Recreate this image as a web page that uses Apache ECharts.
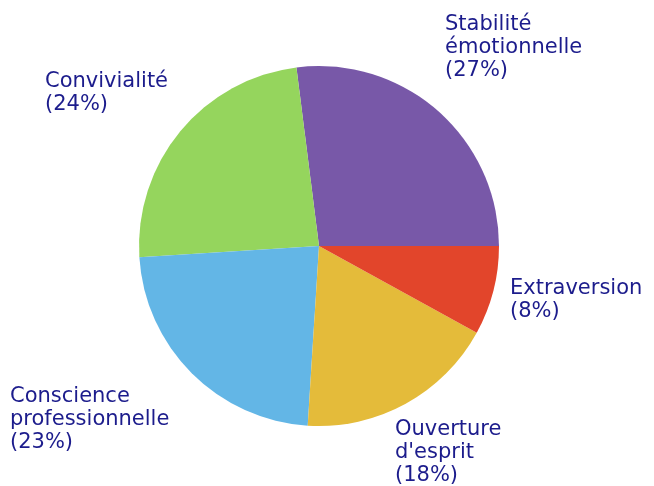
<!DOCTYPE html>
<html lang="fr">
<head>
    <meta charset="UTF-8">
    <title>Traits</title>
    <script src="https://cdn.jsdelivr.net/npm/echarts@6/dist/echarts.min.js"></script>
    <style type="text/css">
        html, body { margin: 0; padding: 0; background: #fff; }
        #pie { width: 654px; height: 486px; }
    </style>
</head>
<body>
<div id="pie"></div>
<script type="text/javascript">
    // donnees
    var names = ['Stabilité\némotionnelle', 'Convivialité', 'Conscience\nprofessionnelle', "Ouverture\nd'esprit", 'Extraversion'];
    var values = [27, 24, 23, 18, 8];
    var colors = ['#7858a8', '#95d55d', '#63b6e6', '#e4bb3a', '#e2452b'];

    // coin haut-gauche de chaque etiquette
    var labelPos = [[445, 13], [45, 70], [10, 385], [395, 418], [510, 277]];

    var chart = echarts.init(document.getElementById('pie'));

    var pdata = [];
    for (var i = 0; i < names.length; i++) {
        pdata.push({name: names[i], value: values[i], itemStyle: {color: colors[i]}});
    }

    chart.setOption({
        animation: false,
        series: [{
            type: 'pie',
            center: [319, 246],
            radius: 180,
            startAngle: 0,
            clockwise: false,
            data: pdata,
            label: {
                show: true,
                position: 'outside',
                formatter: function (p) {
                    return p.name + '\n(' + p.value + '%)';
                },
                color: '#1c1c8c',
                fontFamily: 'DejaVu Sans',
                fontSize: 21,
                lineHeight: 23,
                align: 'left',
                overflow: 'none',
                width: 300,
                bleedMargin: 0
            },
            labelLine: {show: false},
            labelLayout: function (params) {
                var p = labelPos[params.dataIndex];
                return {x: p[0], y: p[1], align: 'left', verticalAlign: 'top'};
            },
            emphasis: {disabled: true}
        }]
    });
</script>
</body>
</html>
